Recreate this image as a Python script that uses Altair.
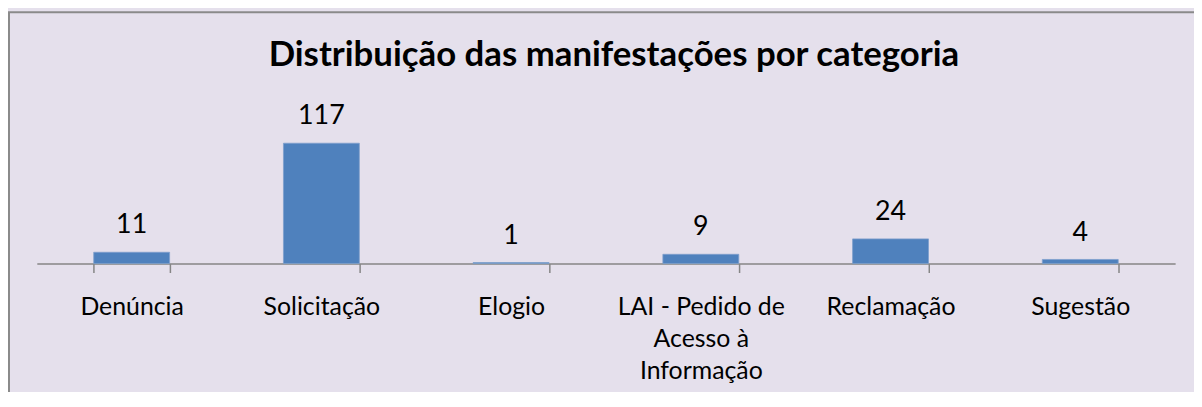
import json
import altair as alt
import pandas as pd

categories = ["Denúncia", "Solicitação", "Elogio",
              "LAI - Pedido de Acesso à Informação", "Reclamação", "Sugestão"]
counts = [11, 117, 1, 9, 24, 4]
label_lines = [["Denúncia"], ["Solicitação"], ["Elogio"],
               ["LAI - Pedido de", "Acesso à", "Informação"], ["Reclamação"], ["Sugestão"]]
title_text = "Distribuição das manifestações por categoria"

df = pd.DataFrame({"categoria": categories, "total": counts})
label_map = {c: (l if len(l) > 1 else l[0]) for c, l in zip(categories, label_lines)}
label_expr = json.dumps(label_map, ensure_ascii=False) + "[datum.label]"

FONT = "Lato"
W, H = 1146, 145
BG = "#E5E0EC"
GRAY = "#868686"

x_enc = alt.X("categoria:N", sort=categories,
              scale=alt.Scale(paddingInner=0.6, paddingOuter=0.3),
              axis=alt.Axis(title=None, labelAngle=0, tickBand="extent",
                            tickSize=9, tickWidth=1.5, tickColor=GRAY,
                            domainColor=GRAY, domainWidth=1.5,
                            labelFont=FONT, labelFontSize=25, labelColor="black",
                            labelBaseline="alphabetic", labelPadding=42,
                            labelLineHeight=32.5, labelExpr=label_expr,
                            labelLimit=400))
y_enc = alt.Y("total:Q", scale=alt.Scale(domain=[0, 140], nice=False), axis=None)

bars = alt.Chart(df).mark_bar(color="#4F81BD", stroke="#7E9FCC", strokeWidth=0.8).encode(
    x=x_enc, y=y_enc)
labels = alt.Chart(df).mark_text(dy=-19, baseline="alphabetic", font=FONT,
                                 fontSize=27, color="black").encode(
    x=alt.X("categoria:N", sort=categories), y="total:Q", text="total:Q")

one = pd.DataFrame({"a": [0]})
border = alt.Chart(one).mark_rect(
    filled=False, stroke="#8A8A8A", strokeWidth=2).encode(
    x=alt.value(-28), y=alt.value(-108), x2=alt.value(W + 60), y2=alt.value(H + 200))
title = alt.Chart(one).mark_text(font=FONT, fontSize=35, fontWeight="bold",
                                 baseline="alphabetic", align="center", color="black").encode(
    x=alt.value(W / 2 + 8), y=alt.value(-54), text=alt.value(title_text))

chart = alt.layer(bars, labels, border, title).properties(
    width=W, height=H,
    autosize=alt.AutoSizeParams(type="none"),
    padding={"left": 29, "right": 19, "top": 111, "bottom": 128},
    background=BG,
).configure_view(stroke=None)

chart.save("out.html", embed_options={"renderer": "svg", "actions": False})
